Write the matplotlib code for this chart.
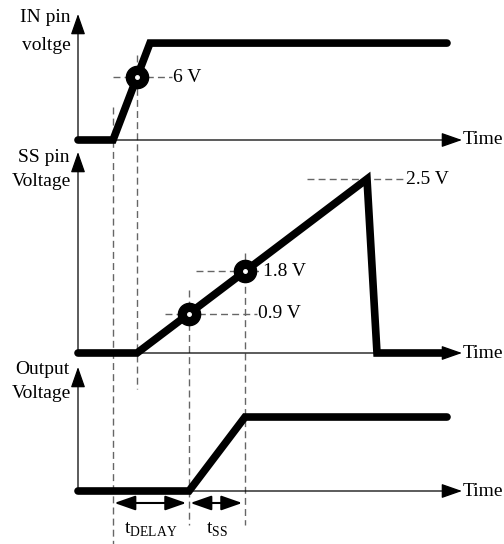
"""Soft-start timing diagram: IN pin, SS pin and output voltage versus time."""

import numpy as np
import matplotlib.pyplot as plt

plt.rcParams["font.family"] = ["Liberation Serif", "DejaVu Serif"]
plt.rcParams["mathtext.fontset"] = "custom"
plt.rcParams["mathtext.rm"] = "Liberation Serif"
plt.rcParams["font.size"] = 14

# --- data (schematic time units, schematic levels) ---
in_t = [0.0, 3.5, 7.2, 36.9]
in_v = [0.0, 0.0, 1.0, 1.0]
ss_t = [0.0, 5.9, 28.9, 29.9, 36.9]
ss_v = [0.0, 0.0, 2.5, 0.0, 0.0]
out_t = [0.0, 11.1, 16.7, 36.9]
out_v = [0.0, 0.0, 1.0, 1.0]

t_in_start = 3.5
t_6v = 5.9
t_09 = 11.1
t_18 = 16.7
t_peak = 28.9

ref_labels = ["6 V", "2.5 V", "1.8 V", "0.9 V"]
ref_panel = ["in", "ss", "ss", "ss"]
ref_mark_t = [t_6v, t_peak, t_18, t_09]
ref_from_t = [3.5, 22.9, 11.8, 8.7]
ref_to_t = [9.4, 32.7, 18.4, 17.9]
ref_circle = [True, False, True, True]

axis_labels = [["IN pin", "voltge"], ["SS pin", "Voltage"], ["Output", "Voltage"]]

# --- layout (pixels) ---
W, H = 504, 544
X0 = 78
T_MAX = 42.6
T_ARROW = 38.4
DASH = "#666666"


def frac_rect(top_px, bottom_px):
    return [X0 / W, 1 - bottom_px / H, (W - X0) / W, (bottom_px - top_px) / H]


fig = plt.figure(figsize=(W / 100, H / 100), dpi=100)

# overlay used for the guides that cross the panels (y in pixels from top)
ov = fig.add_axes([X0 / W, 0, (W - X0) / W, 1])
ov.set_xlim(0, T_MAX)
ov.set_ylim(H, 0)
ov.axis("off")

guide_t = [t_in_start, t_6v, t_09, t_18]
guide_top = [107, 55, 290, 253]
guide_bot = [544, 389, 525, 525]
for t, y0, y1 in zip(guide_t, guide_top, guide_bot):
    ov.plot([t, t], [y0, y1], color=DASH, lw=1, linestyle=(0, (5, 3)))

panels = {}
# name, top px, baseline px, ylim top, label rows px
specs = [("in", 14, 140, 1.30, (18, 45)),
         ("ss", 152, 353, 2.888, (157, 181)),
         ("out", 367, 491, 1.676, (370, 393))]
traces = {"in": (in_t, in_v), "ss": (ss_t, ss_v), "out": (out_t, out_v)}
for (name, top, base, ytop, rows), labels in zip(specs, axis_labels):
    ax = fig.add_axes(frac_rect(top, base))
    ax.set_xlim(0, T_MAX)
    ax.set_ylim(0, ytop)
    ax.axis("off")
    ax.patch.set_visible(False)
    head = dict(arrowstyle="-|>,head_length=0.8,head_width=0.28", mutation_scale=16,
                lw=0.9, color="black", shrinkA=0, shrinkB=0)
    ax.annotate("", xy=(0, ytop), xytext=(0, 0), arrowprops=head, annotation_clip=False)
    ax.annotate("", xy=(T_ARROW, 0), xytext=(0, 0), arrowprops=head, annotation_clip=False)
    ax.text(T_ARROW + 0.1, 0, "Time", ha="left", va="center")
    t, v = traces[name]
    ax.plot(t, v, color="black", lw=5.5, solid_capstyle="round",
            solid_joinstyle="miter", clip_on=False, zorder=3)
    panels[name] = ax
    fig.text(70 / W, 1 - rows[0] / H, labels[0], ha="right", va="center")
    fig.text(71 / W, 1 - rows[1] / H, labels[1], ha="right", va="center")

for lab, pn, tm, ta, tb, circ in zip(ref_labels, ref_panel, ref_mark_t,
                                     ref_from_t, ref_to_t, ref_circle):
    ax = panels[pn]
    t, v = traces[pn]
    lvl = np.interp(tm, t[:3], v[:3])
    ax.plot([ta, tb], [lvl, lvl], color=DASH, lw=1, linestyle=(0, (5, 3)), zorder=2)
    ax.text(tb + 0.1, lvl, lab, ha="left", va="center")
    if circ:
        ax.plot(tm, lvl, "o", color="black", ms=16, zorder=4)
        ax.plot(tm, lvl, "o", color="white", ms=2.5, zorder=5)

# timing intervals below the output trace
ax = panels["out"]
y_arr = -0.162
both = dict(arrowstyle="<|-|>,head_length=0.8,head_width=0.28", mutation_scale=16,
            lw=1.5, color="black", shrinkA=1, shrinkB=2)
ax.annotate("", xy=(t_09, y_arr), xytext=(t_in_start, y_arr), arrowprops=both,
            annotation_clip=False)
ax.annotate("", xy=(t_18, y_arr), xytext=(t_09, y_arr), arrowprops=both,
            annotation_clip=False)
ov.text((t_in_start + t_09) / 2, 530, r"t$_{\mathrm{DELAY}}$", ha="center", va="center")
ov.text((t_09 + t_18) / 2, 530, r"t$_{\mathrm{SS}}$", ha="center", va="center")

fig.savefig("out.png", dpi=100)
